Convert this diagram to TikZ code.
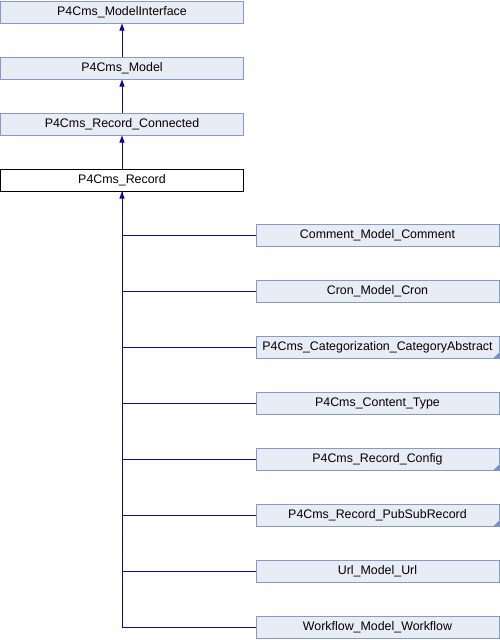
\documentclass[tikz,border=0pt]{standalone}
\usepackage{fontspec}
\setmainfont{Liberation Sans}
\usetikzlibrary{arrows.meta}
\definecolor{boxfill}{HTML}{E8ECF5}
\definecolor{boxline}{HTML}{8499CC}
\definecolor{linkcol}{HTML}{0A0A9E}
\definecolor{cornercol}{HTML}{7D90C4}
\tikzset{
  cls/.style={draw=boxline, fill=boxfill, line width=1pt, minimum width=243pt, minimum height=22pt, inner sep=0pt, font=\fontsize{12.4}{14}\selectfont},
  cur/.style={cls, draw=black, fill=white},
  inh/.style={draw=linkcol, line width=1pt, -{Triangle[width=5pt,length=7pt]}},
  link/.style={draw=linkcol, line width=1pt},
  tri/.style={fill=cornercol, draw=none}
}
\begin{document}
\begin{tikzpicture}[x=1pt,y=-1pt]
\useasboundingbox (0,0) rectangle (500,640);
\node[cls] (mi) at (122,12) {P4Cms\_ModelInterface};
\node[cls] (m) at (122,68) {P4Cms\_Model};
\node[cls] (rc) at (122,124) {P4Cms\_Record\_Connected};
\node[cur] (r) at (122,180) {P4Cms\_Record};
\draw[inh] (m.north) -- (mi.south);
\draw[inh] (rc.north) -- (m.south);
\draw[inh] (r.north) -- (rc.south);
\node[cls] (c1) at (377.5,235.5) {Comment\_Model\_Comment};
\node[cls] (c2) at (377.5,291.5) {Cron\_Model\_Cron};
\node[cls] (c3) at (377.5,347.5) {P4Cms\_Categorization\_CategoryAbstract};
\node[cls] (c4) at (377.5,403.5) {P4Cms\_Content\_Type};
\node[cls] (c5) at (377.5,459.5) {P4Cms\_Record\_Config};
\node[cls] (c6) at (377.5,515.5) {P4Cms\_Record\_PubSubRecord};
\node[cls] (c7) at (377.5,571.5) {Url\_Model\_Url};
\node[cls] (c8) at (377.5,627.5) {Workflow\_Model\_Workflow};
\foreach \n in {c3,c5,c6}{
  \fill[tri] ([xshift=-0.5pt,yshift=0.5pt]\n.south east) -- ++(-6,0) -- ++(6,-6) -- cycle;
}
\coordinate (bend) at (122,627.5);
\draw[link] (c8.west) -- (bend) -- (r.south);
\foreach \n in {c1,c2,c3,c4,c5,c6,c7}{
  \draw[link] (\n.west) -- (\n.west -| bend);
}
\draw[inh] ([yshift=-8pt]r.south) -- (r.south);
\end{tikzpicture}
\end{document}
